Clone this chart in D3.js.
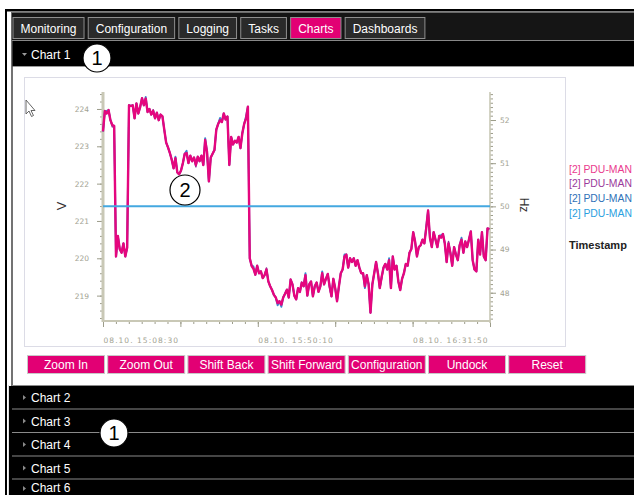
<!DOCTYPE html>
<html><head><meta charset="utf-8">
<script src="https://cdn.jsdelivr.net/npm/d3@7"></script>
<style>
html,body{margin:0;padding:0;background:#fff;overflow:hidden}
svg{display:block;font-family:"Liberation Sans",Arial,sans-serif}
</style></head><body>
<svg id="c" width="634" height="495"></svg>
<script>
// ---------------- data ----------------
const tabs = ["Monitoring","Configuration","Logging","Tasks","Charts","Dashboards"];
const activeTab = "Charts";
const sections = ["Chart 1","Chart 2","Chart 3","Chart 4","Chart 5","Chart 6"];
const buttons = ["Zoom In","Zoom Out","Shift Back","Shift Forward","Configuration","Undock","Reset"];
const legendNames = ["[2] PDU-MAN","[2] PDU-MAN","[2] PDU-MAN","[2] PDU-MAN"];
const legendTitle = "Timestamp";
const voltTitle = "V";
const hzTitle = "Hz";
const voltTicks = [219,220,221,222,223,224];
const hzTicks = [48,49,50,51,52];
const timeDomain = ["2019-10-08 15:08:30","2019-10-08 16:52:40"];
const timeTickLabels = ["08.10. 15:08:30","08.10. 15:50:10","08.10. 16:31:50"];
const voltStart = "2019-10-08 15:08:30";
const voltStepSec = 30;
const voltPink = [
223.40,223.95,223.88,223.97,223.70,223.57,223.55,220.05,220.60,220.25,220.15,220.40,220.05,220.28,
224.10,224.08,224.10,223.75,224.15,223.88,224.05,224.29,224.10,224.28,223.92,224.00,223.85,223.95,223.75,223.90,223.70,223.85,223.80,223.44,
223.10,222.97,222.82,222.64,222.41,222.68,222.30,222.25,222.35,222.55,222.80,222.82,222.55,222.75,222.60,222.70,222.50,222.72,222.60,222.75,222.50,
223.17,222.85,222.06,222.70,222.80,222.90,223.45,223.60,223.70,223.65,223.88,223.72,223.80,222.50,223.25,223.05,223.15,223.10,223.25,222.95,223.35,223.60,223.75,224.06,
220.00,219.80,219.72,219.56,219.80,219.60,219.65,219.47,219.55,219.70,219.38,219.25,219.15,219.02,218.95,218.80,218.85,218.76,218.95,219.05,219.16,218.95,
219.43,219.30,219.00,218.90,219.20,219.10,219.35,219.25,219.55,219.00,219.30,219.38,218.98,219.25,219.35,219.10,219.25,219.60,219.30,219.45,
219.58,219.25,218.98,219.45,219.20,218.85,219.25,219.60,219.70,220.05,220.10,219.75,220.00,219.90,220.00,219.80,219.95,219.75,219.60,219.60,
219.25,219.55,219.30,218.54,219.30,219.60,219.90,219.60,219.20,219.50,219.75,219.85,219.70,219.95,219.20,220.05,219.70,219.80,219.38,219.15,
219.45,219.60,219.85,219.80,220.15,220.25,220.70,220.45,220.05,220.30,220.35,220.50,220.40,220.80,221.28,220.55,220.30,220.70,220.50,220.30,
220.60,220.55,220.65,220.40,219.90,220.40,220.15,219.80,220.30,220.10,219.95,220.35,220.50,220.15,220.45,220.30,220.50,220.72,219.95,219.70,
219.65,220.50,220.10,220.70,220.05,219.95,220.80,220.78];
const voltBlue = [
223.40,223.95,223.95,223.97,223.70,223.57,223.55,220.05,220.60,220.25,220.15,220.40,220.05,220.28,
224.10,224.08,224.10,223.75,224.15,223.88,224.05,224.29,224.10,224.32,223.92,224.00,223.85,223.95,223.75,223.90,223.70,223.85,223.80,223.44,
223.10,222.97,222.82,222.64,222.41,222.72,222.30,222.25,222.35,222.55,222.80,222.88,222.55,222.75,222.60,222.70,222.50,222.72,222.60,222.75,222.50,
223.22,222.85,222.06,222.70,222.80,222.90,223.45,223.60,223.76,223.65,223.88,223.72,223.80,222.50,223.25,223.05,223.15,223.10,223.25,222.95,223.35,223.60,223.80,224.06,
220.00,219.80,219.78,219.56,219.80,219.60,219.65,219.47,219.55,219.70,219.38,219.25,219.15,219.02,218.95,218.74,218.85,218.70,218.95,219.05,219.16,218.95,
219.43,219.30,219.00,218.90,219.20,219.10,219.35,219.25,219.60,219.00,219.30,219.38,218.98,219.25,219.35,219.10,219.25,219.65,219.30,219.45,
219.58,219.25,218.98,219.45,219.20,218.85,219.25,219.60,219.70,220.10,220.10,219.75,220.00,219.90,220.00,219.80,219.95,219.75,219.60,219.60,
219.20,219.55,219.30,218.54,219.30,219.60,219.90,219.60,219.20,219.50,219.75,219.85,219.70,220.00,219.20,220.05,219.70,219.80,219.38,219.15,
219.45,219.60,219.85,219.80,220.15,220.25,220.70,220.45,220.05,220.30,220.35,220.50,220.40,220.85,221.28,220.55,220.30,220.70,220.50,220.30,
220.60,220.62,220.65,220.40,219.90,220.40,220.15,219.80,220.30,220.10,219.95,220.35,220.55,220.15,220.45,220.30,220.50,220.72,219.95,219.70,
219.65,220.50,220.16,220.70,220.05,219.95,220.80,220.78];
const voltPurple = [
223.40,223.95,223.88,223.97,223.70,223.52,223.55,220.05,220.60,220.25,220.15,220.40,220.05,220.28,
224.10,224.08,224.10,223.75,224.15,223.88,224.05,224.29,224.10,224.28,223.92,224.00,223.85,223.98,223.75,223.90,223.70,223.85,223.80,223.44,
223.10,222.97,222.82,222.64,222.41,222.68,222.30,222.25,222.35,222.55,222.80,222.82,222.55,222.75,222.60,222.70,222.45,222.72,222.60,222.75,222.50,
223.17,222.85,222.06,222.70,222.80,222.90,223.45,223.60,223.70,223.65,223.88,223.72,223.80,222.50,223.25,223.05,223.15,223.10,223.25,222.95,223.35,223.60,223.75,224.06,
220.00,219.80,219.72,219.56,219.80,219.60,219.65,219.47,219.55,219.74,219.38,219.25,219.15,219.02,218.95,218.80,218.85,218.76,218.95,219.05,219.16,218.95,
219.43,219.30,219.00,218.90,219.20,219.10,219.35,219.25,219.55,219.00,219.30,219.38,218.98,219.25,219.35,219.10,219.25,219.60,219.30,219.45,
219.58,219.20,218.98,219.45,219.20,218.85,219.25,219.60,219.70,220.05,220.10,219.75,220.00,219.90,220.00,219.80,219.95,219.75,219.60,219.60,
219.25,219.55,219.30,218.54,219.30,219.60,219.90,219.60,219.20,219.45,219.75,219.85,219.70,219.95,219.20,220.05,219.70,219.80,219.38,219.15,
219.45,219.60,219.85,219.80,220.15,220.25,220.70,220.45,220.05,220.30,220.35,220.50,220.40,220.80,221.28,220.55,220.30,220.70,220.50,220.30,
220.60,220.55,220.65,220.40,219.90,220.45,220.15,219.80,220.30,220.10,219.95,220.35,220.50,220.15,220.45,220.30,220.50,220.72,219.95,219.70,
219.66,220.50,220.10,220.70,220.05,219.95,220.80,220.78];
const freqTimes = ["2019-10-08 15:08:30","2019-10-08 15:18:55","2019-10-08 15:29:20","2019-10-08 15:39:45",
  "2019-10-08 15:50:10","2019-10-08 16:00:35","2019-10-08 16:11:00","2019-10-08 16:21:25",
  "2019-10-08 16:31:50","2019-10-08 16:42:15","2019-10-08 16:52:40"];
const freqValues = [50.00,50.00,50.00,50.00,50.00,50.00,50.00,50.00,50.00,50.00,50.00];

// ---------------- drawing ----------------
const svg = d3.select("#c");
const pinkUI = "#e20074";

svg.append("rect").attr("x",5).attr("y",9).attr("width",640).attr("height",2.5).attr("fill","#000");
svg.append("rect").attr("x",5).attr("y",9).attr("width",2).attr("height",500).attr("fill","#000");
svg.append("rect").attr("x",11.5).attr("y",12.5).attr("width",640).attr("height",28)
  .attr("fill","#151515").attr("stroke","#6a6a6a");
const meas = svg.append("text").attr("font-size",12).attr("visibility","hidden");
let tx = 12.5;
tabs.forEach(t => {
  meas.text(t);
  const w = meas.node().getComputedTextLength() + 15;
  const g = svg.append("g");
  g.append("rect").attr("x",tx+0.5).attr("y",17.5).attr("width",w).attr("height",21)
    .attr("fill", t===activeTab ? pinkUI : "#2a2a2a").attr("stroke","#8e8e8e");
  g.append("text").attr("x",tx+w/2+0.5).attr("y",32.5).attr("text-anchor","middle")
    .attr("font-size",12).attr("fill","#fff").text(t);
  tx += w + 4.2;
});
meas.remove();

svg.append("rect").attr("x",12).attr("y",41).attr("width",630).attr("height",25).attr("fill","#000");
svg.append("line").attr("x1",12).attr("x2",634).attr("y1",40.5).attr("y2",40.5).attr("stroke","#888");
svg.append("line").attr("x1",12).attr("x2",634).attr("y1",66.5).attr("y2",66.5).attr("stroke","#9a9a9a");
svg.append("path").attr("d","M22,53 L27,53 L24.5,56 Z").attr("fill","#9a9a9a");
svg.append("text").attr("x",31).attr("y",59).attr("font-size",12).attr("fill","#fff").text(sections[0]);

svg.append("rect").attr("x",12).attr("y",67).attr("width",630).attr("height",318).attr("fill","#fff");
svg.append("line").attr("x1",12).attr("x2",12).attr("y1",41).attr("y2",386).attr("stroke","#444").attr("stroke-width",1.5);

svg.append("rect").attr("x",24.5).attr("y",77.5).attr("width",541).attr("height",269)
  .attr("fill","#fff").attr("stroke","#dcdce6");

const parse = d3.timeParse("%Y-%m-%d %H:%M:%S");
const x = d3.scaleTime().domain(timeDomain.map(parse)).range([103,490]);
const yV = d3.scaleLinear().domain([218.32,224.455]).range([321,92]);
const yH = d3.scaleLinear().domain([47.345,52.649]).range([321,92]);

const axisCol = "#c9c8b6", tickCol = "#9c9c8a", labCol = "#a2a292";
const tickFont = '"DejaVu Sans",Verdana,sans-serif';

function styleAxis(g){
  g.select(".domain").remove();
  g.selectAll(".tick line").attr("stroke",tickCol);
  g.selectAll(".tick text").attr("fill",labCol).attr("font-family",tickFont).attr("font-size",7.5);
}
const vMinor = d3.range(218.4,224.45,0.2);
svg.append("g").attr("transform","translate(103,0)")
  .call(d3.axisLeft(yV).tickValues(vMinor).tickSize(3).tickFormat("")).call(styleAxis);
svg.append("g").attr("transform","translate(103,0)")
  .call(d3.axisLeft(yV).tickValues(voltTicks).tickSize(6).tickPadding(8).tickFormat(d3.format("d"))).call(styleAxis);
const hMinor = d3.range(47.4,52.65,0.1);
svg.append("g").attr("transform","translate(490,0)")
  .call(d3.axisRight(yH).tickValues(hMinor).tickSize(3).tickFormat("")).call(styleAxis);
svg.append("g").attr("transform","translate(490,0)")
  .call(d3.axisRight(yH).tickValues(hzTicks).tickSize(6).tickPadding(4).tickFormat(d3.format("d"))).call(styleAxis);
const t0 = parse(timeDomain[0]);
const majT = d3.range(6).map(k => new Date(t0.getTime() + k*1250000));
const minT = d3.range(31).map(k => new Date(t0.getTime() + k*1250000/6));
const fmt = d3.timeFormat("%d.%m. %H:%M:%S");
svg.append("g").attr("transform","translate(0,321)")
  .call(d3.axisBottom(x).tickValues(minT).tickSize(3).tickFormat("")).call(styleAxis);
const bx = svg.append("g").attr("transform","translate(0,321)")
  .call(d3.axisBottom(x).tickValues(majT).tickSize(6).tickPadding(11)
    .tickFormat(d => timeTickLabels.includes(fmt(d)) ? fmt(d) : "")).call(styleAxis);
bx.selectAll(".tick text").attr("text-anchor","start").attr("textLength",75).attr("lengthAdjust","spacing")
  .attr("letter-spacing",0.5);

svg.append("line").attr("x1",103).attr("x2",103).attr("y1",92).attr("y2",322).attr("stroke",axisCol).attr("stroke-width",3);
svg.append("line").attr("x1",490).attr("x2",490).attr("y1",92).attr("y2",323).attr("stroke",axisCol).attr("stroke-width",1.6);
svg.append("line").attr("x1",102).attr("x2",491).attr("y1",321).attr("y2",321).attr("stroke",axisCol).attr("stroke-width",2);

svg.append("text").attr("transform","translate(66,206) rotate(-90)").attr("text-anchor","middle")
  .attr("font-size",13).attr("fill","#333").text(voltTitle);
svg.append("text").attr("transform","translate(519.5,205) rotate(90)").attr("text-anchor","middle")
  .attr("font-size",12).attr("fill","#333").text(hzTitle);

const voltTimes = voltPink.map((_, i) => new Date(parse(voltStart).getTime() + i*voltStepSec*1000));
const lineV = d3.line().x((d,i) => x(voltTimes[i])).y(d => yV(d));
const series = [
  {vals: voltPurple, col: "#8c3796", w: 1.5},
  {vals: voltBlue, col: "#3a87d0", w: 1.9},
  {vals: voltPink, col: "#e5067e", w: 2.4}
];
series.forEach(s => svg.append("path").attr("d", lineV(s.vals)).attr("fill","none")
  .attr("stroke", s.col).attr("stroke-width", s.w).attr("stroke-linejoin","round"));
const lineH = d3.line().x((d,i) => x(parse(freqTimes[i]))).y(d => yH(d));
svg.append("path").attr("d", lineH(freqValues)).attr("fill","none").attr("stroke","#44a8e0").attr("stroke-width",2);

const legCols = ["#ea3a8e","#9a3a9c","#2f72b8","#2b9fe0"];
legendNames.forEach((n,i) => svg.append("text").attr("x",569).attr("y",172.5 + i*14.8)
  .attr("font-size",10.4).attr("fill",legCols[i]).text(n));
svg.append("text").attr("x",569).attr("y",249).attr("font-size",11).attr("font-weight","bold")
  .attr("fill","#222").text(legendTitle);

buttons.forEach((b,i) => {
  const bx0 = 27 + i*80.2;
  svg.append("rect").attr("x",bx0+0.5).attr("y",355.5).attr("width",77).attr("height",18)
    .attr("fill",pinkUI).attr("stroke","#c8c8c8");
  svg.append("text").attr("x",bx0+39).attr("y",368.5).attr("text-anchor","middle")
    .attr("font-size",12).attr("fill","#fff").text(b);
});

const secTops = [386,409.5,433,456.5,479.5];
sections.slice(1).forEach((s,i) => {
  const y0 = secTops[i];
  svg.append("rect").attr("x",9).attr("y",y0).attr("width",630).attr("height",24).attr("fill","#000");
  svg.append("line").attr("x1",12).attr("x2",634).attr("y1",y0-0.5).attr("y2",y0-0.5).attr("stroke","#8a8a8a");
  svg.append("path").attr("d",`M23,${Math.min(y0+9,486)} L23,${Math.min(y0+14,491)} L26,${Math.min(y0+11.5,488.5)} Z`).attr("fill","#8a8a8a");
  svg.append("text").attr("x",31).attr("y",Math.min(y0+16,492)).attr("font-size",12).attr("fill","#fff").text(s);
});
svg.append("line").attr("x1",8.5).attr("x2",8.5).attr("y1",385).attr("y2",495).attr("stroke","#ddd");

svg.append("path").attr("d","M26,100 L26,114 L29,111 L31.5,116.5 L33.5,115.5 L31,110.5 L35,110.5 Z")
  .attr("fill","#fff").attr("stroke","#555").attr("stroke-width",0.9);

[[97,58,14,"1"],[185,190,15,"2"],[114,433,14,"1"]].forEach(c => {
  svg.append("circle").attr("cx",c[0]).attr("cy",c[1]).attr("r",c[2]).attr("fill","#fff")
    .attr("stroke","#000").attr("stroke-width",1.2);
  svg.append("text").attr("x",c[0]).attr("y",c[1]).attr("dy","0.36em").attr("text-anchor","middle")
    .attr("font-size",20).attr("fill","#000").text(c[3]);
});
</script>
</body></html>
